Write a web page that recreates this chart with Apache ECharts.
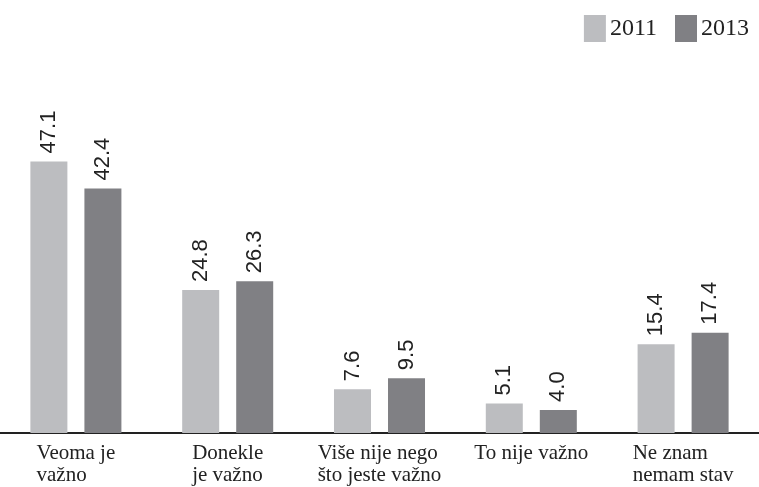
<!DOCTYPE html>
<html>
<head>
<meta charset="utf-8">
<script src="https://cdn.jsdelivr.net/npm/echarts@6/dist/echarts.min.js"></script>
<style>
  html, body { margin: 0; padding: 0; background: #fff; }
  #main { width: 759px; height: 487px; }
</style>
</head>
<body>
<div id="main"></div>
<script>
// podaci
var categories = ['Veoma je\nvažno', 'Donekle\nje važno', 'Više nije nego\nšto jeste važno', 'To nije važno', 'Ne znam\nnemam stav'];
var years = ['2011', '2013'];
var values2011 = [47.1, 24.8, 7.6, 5.1, 15.4];
var values2013 = [42.4, 26.3, 9.5, 4.0, 17.4];

var chart = echarts.init(document.getElementById('main'), null, { renderer: 'canvas' });

var barLabel = {
  show: true,
  position: 'top',
  rotate: 90,
  align: 'left',
  verticalAlign: 'middle',
  distance: 8,
  fontFamily: 'Liberation Sans',
  fontSize: 22,
  color: '#222',
  formatter: function (p) { return p.value.toFixed(1); }
};

var option = {
  animation: false,
  legend: {
    data: years,
    right: 5,
    top: 10,
    itemWidth: 22,
    itemHeight: 27,
    itemGap: 18,
    icon: 'rect',
    textStyle: { fontFamily: 'Liberation Serif', fontSize: 24, color: '#222', padding: [0, 0, 0, -1] }
  },
  grid: { left: -10, right: -10, top: 87, bottom: 54 },
  xAxis: {
    type: 'category',
    data: categories,
    axisTick: { show: false },
    axisLine: { lineStyle: { color: '#222', width: 2 } },
    axisLabel: {
      margin: 9,
      interval: 0,
      formatter: function (v) {
        return v.split('\n').map(function (s) { return '{t|' + s + '}'; }).join('\n');
      },
      rich: {
        t: { align: 'left', fontFamily: 'Liberation Serif', fontSize: 21, lineHeight: 22, color: '#222' }
      }
    }
  },
  yAxis: {
    type: 'value',
    min: 0,
    max: 60,
    show: false
  },
  series: [
    {
      name: years[0],
      type: 'bar',
      data: values2011,
      barWidth: 37,
      barGap: '46%',
      itemStyle: { color: '#bcbdc0' },
      label: barLabel
    },
    {
      name: years[1],
      type: 'bar',
      data: values2013,
      barWidth: 37,
      itemStyle: { color: '#808084' },
      label: barLabel
    }
  ]
};

chart.setOption(option);
</script>
</body>
</html>
